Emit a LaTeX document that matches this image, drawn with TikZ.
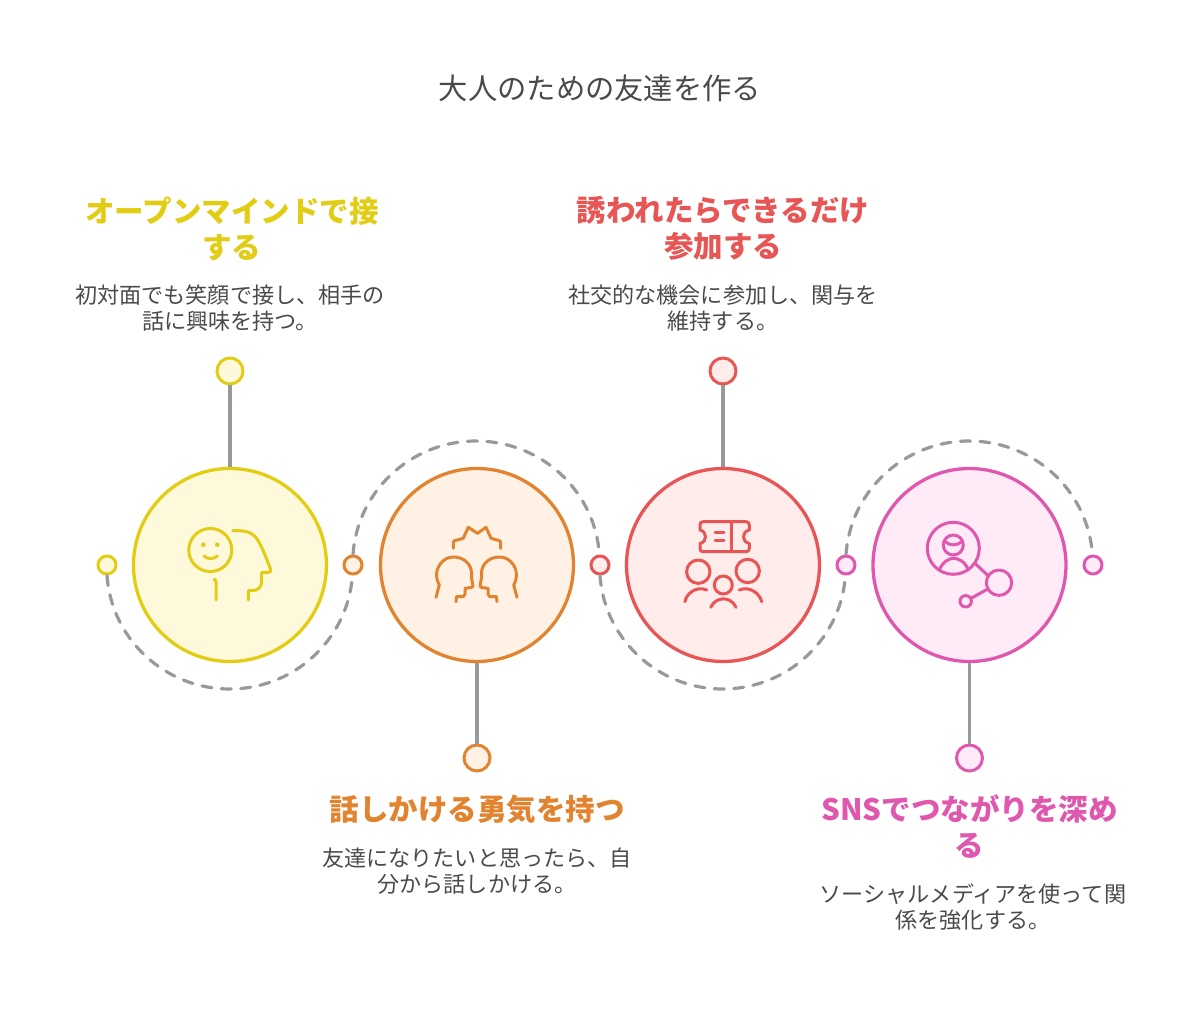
\documentclass[tikz,border=0pt]{standalone}
\usepackage{fontspec}
\setmainfont{Noto Sans CJK JP}
\usepackage{xcolor}
\definecolor{ylwline}{HTML}{E3CC14}
\definecolor{ylwfill}{HTML}{FFF9DB}
\definecolor{orgline}{HTML}{E2832F}
\definecolor{orgfill}{HTML}{FFF1E4}
\definecolor{redline}{HTML}{E85555}
\definecolor{redfill}{HTML}{FFECEB}
\definecolor{pnkline}{HTML}{E057AE}
\definecolor{pnkfill}{HTML}{FFEBF7}
\definecolor{txtgray}{HTML}{4A4A4A}
\definecolor{stemgray}{HTML}{999999}
\tikzset{
	bigcirc/.style={circle,draw=#1line,fill=#1fill,line width=3.3pt,minimum size=193pt,inner sep=0pt},
	smalldot/.style={circle,draw=#1line,fill=#1fill,line width=3pt,minimum size=18pt,inner sep=0pt},
	topdot/.style={circle,draw=#1line,fill=#1fill,line width=3pt,minimum size=26pt,inner sep=0pt},
	heading/.style={text=#1line,font=\fontsize{29.5}{36}\selectfont\bfseries,align=center},
	descr/.style={text=txtgray,font=\fontsize{22.1}{26}\selectfont,align=center},
	stem/.style={draw=stemgray,line width=3.3pt},
	dasharc/.style={draw=stemgray,line width=3.2pt,dash pattern=on 10pt off 9.5pt,line cap=round},
	icon/.style={draw=#1line,line width=3pt,line cap=round,line join=round}
}
\begin{document}
\begin{tikzpicture}[x=1pt,y=1pt,yscale=-1]
	\useasboundingbox (0,0) rectangle (1200,1024);
	\node[text=txtgray,font=\fontsize{29.3}{36}\selectfont] (title) at (600,88) {大人のための友達を作る};
	% main circles
	\node[bigcirc=ylw] (stepA) at (230,565) {};
	\node[bigcirc=org] (stepB) at (477,565) {};
	\node[bigcirc=red] (stepC) at (723,565) {};
	\node[bigcirc=pnk] (stepD) at (969.5,565) {};
	% end dots
	\node[topdot=ylw] (topA) at (230,371) {};
	\node[topdot=org] (topB) at (477,758) {};
	\node[topdot=red] (topC) at (723,371) {};
	\node[topdot=pnk] (topD) at (969.5,758) {};
	\draw[stem] (topA) -- (stepA);
	\draw[stem] (topB) -- (stepB);
	\draw[stem] (topC) -- (stepC);
	\draw[stem] (topD) -- (stepD);
	% dots on the centre line
	\node[smalldot=ylw] (dotA) at (107,565) {};
	\node[smalldot=org] (dotB) at (353,565) {};
	\node[smalldot=red] (dotC) at (600,565) {};
	\node[smalldot=pnk] (dotD) at (846,565) {};
	\node[smalldot=pnk] (dotE) at (1093,565) {};
	\draw[dasharc] (dotA.south) arc[start angle=176,end angle=4,x radius=123,y radius=122];
	\draw[dasharc] (dotB.north) arc[start angle=184,end angle=356,x radius=123.5,y radius=122];
	\draw[dasharc] (dotC.south) arc[start angle=176,end angle=4,x radius=123,y radius=122];
	\draw[dasharc] (dotD.north) arc[start angle=184,end angle=356,x radius=123.5,y radius=122];
	% texts
	\node[heading=ylw] (headA) at (232,228.5) {オープンマインドで接\\する};
	\node[descr] (textA) at (230,308) {初対面でも笑顔で接し、相手の\\話に興味を持つ。};
	\node[heading=org] (headB) at (477,809.5) {話しかける勇気を持つ};
	\node[descr] (textB) at (477,871) {友達になりたいと思ったら、自\\分から話しかける。};
	\node[heading=red] (headC) at (723,228.5) {誘われたらできるだけ\\参加する};
	\node[descr] (textC) at (723,308) {社交的な機会に参加し、関与を\\維持する。};
	\node[heading=pnk] (headD) at (969.5,827) {SNSでつながりを深め\\る};
	\node[descr] (textD) at (973,907) {ソーシャルメディアを使って関\\係を強化する。};
	% yellow icon
	\draw[icon=ylw] (210.3,550) circle (21.5);
	\fill[ylwline] (203.3,544.7) circle (2.3) (217.3,544.7) circle (2.3);
	\draw[icon=ylw] (204,556) .. controls (208,559.5) and (213,559.5) .. (217.3,556);
	\draw[icon=ylw] (232.7,530.7) -- (238,530.7) .. controls (250,530.7) and (255,535) .. (258.3,541) .. controls (263,549) and (267,560) .. (270.7,569.5) .. controls (271,571.5) and (270,572.3) .. (268.5,572.3) -- (261.7,572.3) -- (261.7,581) .. controls (261.7,587) and (258,590.7) .. (252,590.7) -- (248.3,590.7) -- (248.3,600);
	\draw[icon=ylw] (214,579.3) .. controls (215.5,579.5) and (216,580.5) .. (216,582) -- (216,600);
	% orange icon
	\draw[icon=org] (453.3,548.3) -- (453.3,542) -- (454.5,540.7) -- (463.3,538.3) -- (468.3,527.3) -- (477.5,533.3) -- (486,527.3) -- (491,538.3) -- (499.5,540.7) -- (500.7,542) -- (500.7,548.3);
	\foreach \s in {1,-1}
	\draw[icon=org,shift={(476.5,0)},xscale=\s] (-40.5,597.3) -- (-37.2,585) .. controls (-41,578) and (-41,571) .. (-37,565) .. controls (-33,559) and (-28,557) .. (-23,557) .. controls (-12,557) and (-5,565) .. (-5,573) -- (-5,578) -- (-3.5,586) -- (-5,587.5) -- (-11.5,588.3) -- (-11.5,594) -- (-13,596.5) -- (-20,596.7) -- (-20.5,601.7);
	% red icon
	\draw[icon=red] (703,521.7) -- (746,521.7) .. controls (748,521.7) and (749.3,523) .. (749.3,525) -- (749.3,530) .. controls (745,531) and (743.5,534) .. (743.5,536.7) .. controls (743.5,539.5) and (745,542.5) .. (749.3,543.5) -- (749.3,548.5) .. controls (749.3,550.5) and (748,551.7) .. (746,551.7) -- (703,551.7) .. controls (701,551.7) and (700,550.5) .. (700,548.5) -- (700,543.5) .. controls (704,542.5) and (705.5,539.5) .. (705.5,536.7) .. controls (705.5,534) and (704,531) .. (700,530) -- (700,525) .. controls (700,523) and (701,521.7) .. (703,521.7) -- cycle;
	\draw[icon=red] (731.7,521.7) -- (731.7,551.7);
	\draw[icon=red] (715,532.3) -- (724,532.3) (715,540.7) -- (724,540.7);
	\draw[icon=red] (698.3,571.7) circle (11.7) (747.7,571) circle (11.7) (723.3,585) circle (9);
	\draw[icon=red] (685,601.7) .. controls (686,594) and (696,585.5) .. (706.7,590);
	\draw[icon=red] (739.3,590) .. controls (750,585.5) and (760,594) .. (761.7,601.7);
	\draw[icon=red] (710.7,607.3) .. controls (716,596) and (731,596) .. (736,607.3);
	% pink icon
	\draw[icon=pnk] (953.3,548.3) circle (26) (953.3,545) circle (10);
	\draw[icon=pnk] (945,541.5) .. controls (950,546) and (957,546) .. (962,541.5);
	\draw[icon=pnk] (939.3,570) .. controls (943,561) and (950,558.3) .. (953.3,558.3) .. controls (958,558.3) and (965,561) .. (968.3,570);
	\draw[icon=pnk] (975,563.3) -- (987.3,575) (987.3,589.3) -- (971,598.3);
	\draw[icon=pnk] (999,582.7) circle (12.7) (965.7,601.3) circle (5.7);
\end{tikzpicture}
\end{document}
